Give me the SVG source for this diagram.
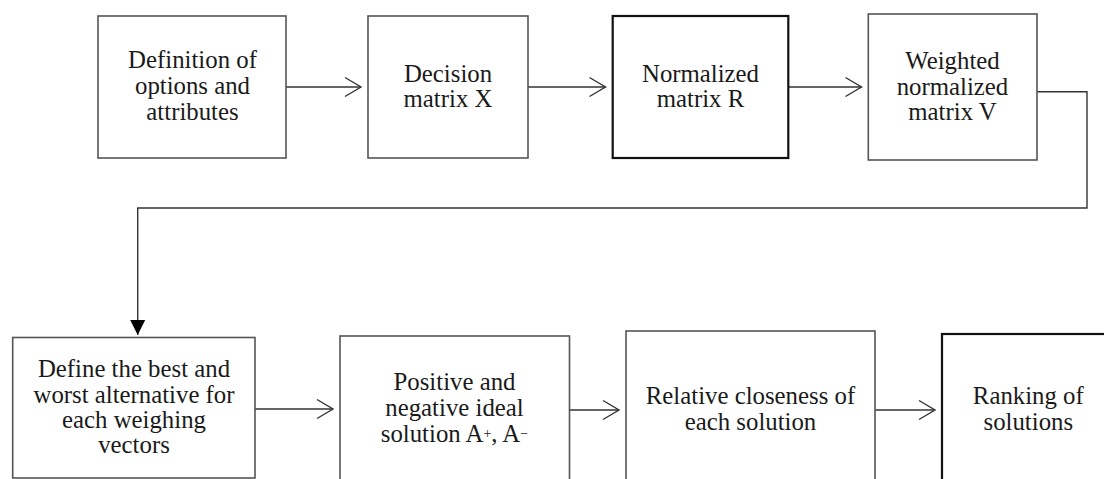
<svg xmlns="http://www.w3.org/2000/svg" width="1104" height="479" viewBox="0 0 1104 479">
  <style>
    .box { fill: #ffffff; stroke: #555555; stroke-width: 1.6; }
    .box.dark { stroke: #111111; stroke-width: 2.2; }
    .lbl { font-family: "Liberation Serif", "Times New Roman", serif; font-size: 24.8px; fill: #1a1a1a; text-anchor: middle; }
    .sup { font-size: 14px; }
    .conn { fill: none; stroke: #333333; stroke-width: 1.4; }
  </style>
  <defs>
    <marker id="open" markerUnits="userSpaceOnUse" markerWidth="20" markerHeight="24" viewBox="-18 -12 20 24" refX="0" refY="0" orient="auto" overflow="visible">
      <path d="M-16,-9.5 L0,0 L-16,9.5" fill="none" stroke="#333333" stroke-width="1.4"/>
    </marker>
    <marker id="filled" markerUnits="userSpaceOnUse" markerWidth="18" markerHeight="18" viewBox="-16 -9 18 18" refX="0" refY="0" orient="auto" overflow="visible">
      <path d="M-15,-7.5 L0,0 L-15,7.5 Z" fill="#000000"/>
    </marker>
  </defs>
  <rect width="1104" height="479" fill="#ffffff"/>

  <g id="connectors">
    <line class="conn" x1="286" y1="87" x2="361" y2="87" marker-end="url(#open)"/>
    <line class="conn" x1="528" y1="87" x2="605.5" y2="87" marker-end="url(#open)"/>
    <line class="conn" x1="788" y1="87" x2="861.5" y2="87" marker-end="url(#open)"/>
    <polyline class="conn" points="1037,91.7 1087,91.7 1087,208 137.7,208 137.7,335" marker-end="url(#filled)"/>
    <line class="conn" x1="255" y1="409" x2="333" y2="409" marker-end="url(#open)"/>
    <line class="conn" x1="569.5" y1="410" x2="619" y2="410" marker-end="url(#open)"/>
    <line class="conn" x1="875" y1="410" x2="935" y2="410" marker-end="url(#open)"/>
  </g>

  <g id="node-definition">
    <rect class="box" x="98" y="16" width="188" height="142"/>
    <text class="lbl" x="192.5" y="68.3">Definition of</text>
    <text class="lbl" x="192.5" y="94.3">options and</text>
    <text class="lbl" x="192.5" y="120">attributes</text>
  </g>

  <g id="node-decision">
    <rect class="box" x="368" y="16" width="160" height="142"/>
    <text class="lbl" x="448" y="81.7">Decision</text>
    <text class="lbl" x="448" y="107">matrix X</text>
  </g>

  <g id="node-normalized">
    <rect class="box dark" x="612.7" y="16" width="175.6" height="142"/>
    <text class="lbl" x="700.5" y="81.7">Normalized</text>
    <text class="lbl" x="700.5" y="107.3">matrix R</text>
  </g>

  <g id="node-weighted">
    <rect class="box" x="868.3" y="14" width="168.7" height="146"/>
    <text class="lbl" x="952.5" y="69">Weighted</text>
    <text class="lbl" x="952.5" y="95">normalized</text>
    <text class="lbl" x="952.5" y="120">matrix V</text>
  </g>

  <g id="node-define">
    <rect class="box" x="12.7" y="337.5" width="242.3" height="140.5"/>
    <text class="lbl" x="134" y="376.7">Define the best and</text>
    <text class="lbl" x="134" y="402.7">worst alternative for</text>
    <text class="lbl" x="134" y="428.3">each weighing</text>
    <text class="lbl" x="134" y="453.3">vectors</text>
  </g>

  <g id="node-ideal">
    <rect class="box" x="340" y="336" width="229.5" height="160"/>
    <text class="lbl" x="454.5" y="390">Positive and</text>
    <text class="lbl" x="454.5" y="416">negative ideal</text>
    <text class="lbl" x="454.5" y="441.7">solution A<tspan class="sup" dy="-4">+</tspan><tspan dy="4">, A</tspan><tspan class="sup" dy="-4">−</tspan></text>
  </g>

  <g id="node-closeness">
    <rect class="box" x="626" y="331" width="249" height="165"/>
    <text class="lbl" x="750.5" y="404">Relative closeness of</text>
    <text class="lbl" x="750.5" y="430">each solution</text>
  </g>

  <g id="node-ranking">
    <rect class="box dark" x="942" y="334" width="172" height="162"/>
    <text class="lbl" x="1028.3" y="404">Ranking of</text>
    <text class="lbl" x="1028.3" y="430">solutions</text>
  </g>
</svg>
